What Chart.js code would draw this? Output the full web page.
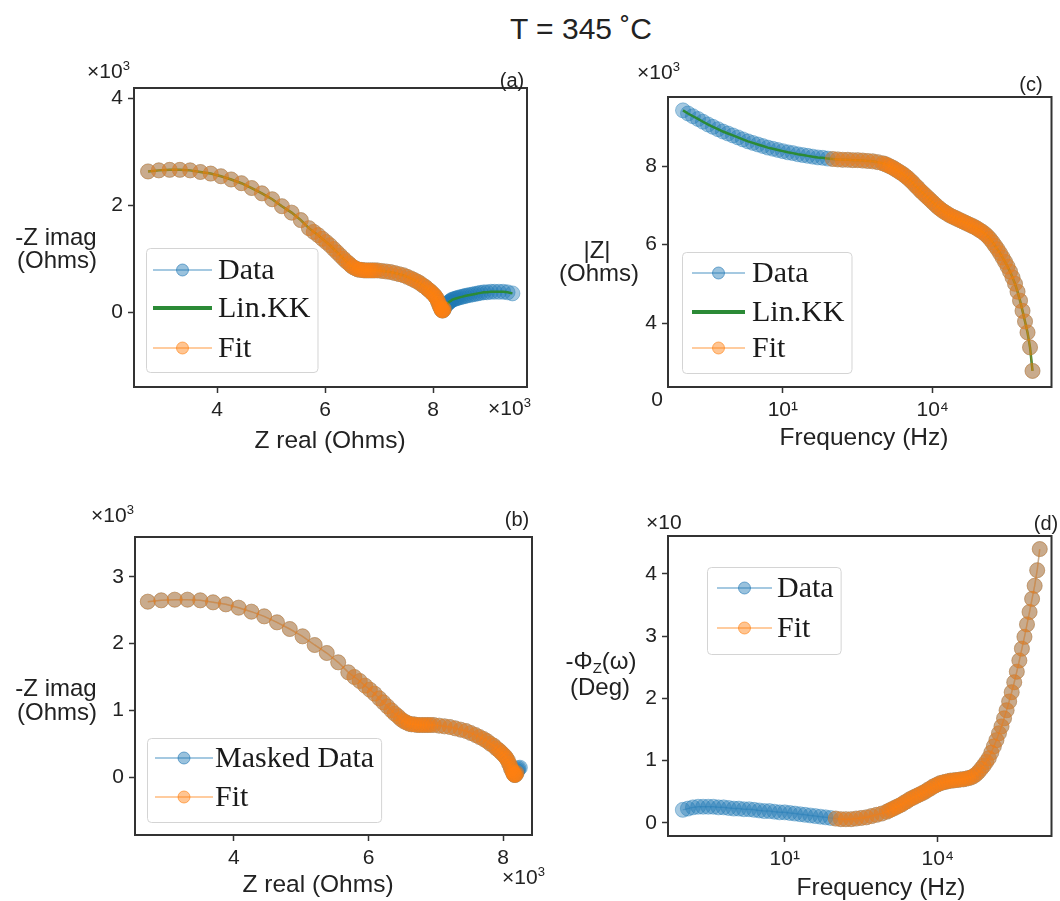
<!DOCTYPE html>
<html><head><meta charset="utf-8">
<script src="https://cdn.jsdelivr.net/npm/chart.js@4.4.1/dist/chart.umd.min.js"></script>
<style>
html,body{margin:0;padding:0;background:#fff;}
body{width:1060px;height:901px;position:relative;overflow:hidden;font-family:"Liberation Sans",Arial,sans-serif;color:#222;}
canvas{position:absolute;}
.c{position:absolute;white-space:nowrap;transform:translate(-50%,-50%);line-height:1;}
.l{position:absolute;white-space:nowrap;line-height:1;}
sup{font-size:62%;vertical-align:0.6em;line-height:0;}
sub{font-size:62%;vertical-align:-0.25em;line-height:0;}
.ax{font-size:24.5px;}
.yl{font-size:24px;}
.m{font-size:21px;}
.p{font-size:20px;}
</style></head><body>
<canvas id="ca" width="545" height="420" style="left:0;top:50px"></canvas>
<canvas id="cc" width="515" height="420" style="left:545px;top:50px"></canvas>
<canvas id="cb" width="545" height="411" style="left:0;top:490px"></canvas>
<canvas id="cd" width="515" height="411" style="left:545px;top:490px"></canvas>

<div class="c" style="left:581px;top:29px;font-size:30px">T = 345 ˚C</div>

<div class="l m" style="left:87px;top:60px">×10<sup>3</sup></div>
<div class="c yl" style="left:56px;top:237px">-Z imag</div>
<div class="c yl" style="left:57px;top:260px">(Ohms)</div>
<div class="c p" style="left:512px;top:80px">(a)</div>
<div class="l m" style="left:488px;top:397px">×10<sup>3</sup></div>
<div class="c ax" style="left:330px;top:440px">Z real (Ohms)</div>

<div class="l m" style="left:637px;top:61px">×10<sup>3</sup></div>
<div class="c yl" style="left:597px;top:250px">|Z|</div>
<div class="c yl" style="left:599px;top:273px">(Ohms)</div>
<div class="c p" style="left:1031px;top:84px">(c)</div>
<div class="c m" style="left:657px;top:398px">0</div>
<div class="c ax" style="left:864px;top:437px">Frequency (Hz)</div>

<div class="l m" style="left:91px;top:504px">×10<sup>3</sup></div>
<div class="c yl" style="left:56px;top:688px">-Z imag</div>
<div class="c yl" style="left:57px;top:712px">(Ohms)</div>
<div class="c p" style="left:517px;top:519px">(b)</div>
<div class="l m" style="left:502px;top:866px">×10<sup>3</sup></div>
<div class="c ax" style="left:318px;top:884px">Z real (Ohms)</div>

<div class="l m" style="left:646px;top:511px">×10</div>
<div class="c yl" style="left:601px;top:661px">-Φ<sub>Z</sub>(ω)</div>
<div class="c yl" style="left:600px;top:687px">(Deg)</div>
<div class="c p" style="left:1046px;top:523px">(d)</div>
<div class="c ax" style="left:881px;top:887px">Frequency (Hz)</div>

<script>
// ---------------- data ----------------
const freqHz = [0.1,0.126,0.158,0.2,0.251,0.316,0.398,0.501,0.631,0.794,
 1,1.26,1.58,2,2.51,3.16,3.98,5.01,6.31,7.94,
 10,12.6,15.8,20,25.1,31.6,39.8,50.1,63.1,79.4,
 100,126,158,200,251,316,398,501,631,794,
 1000,1122,1259,1413,1585,1778,1995,2239,2512,2818,
 3162,3548,3981,4467,5012,5623,6310,7079,7943,8913,
 10000,11220,12590,14130,15850,17780,19950,22390,25120,28180,
 31620,35480,39810,44670,50120,56230,63100,70790,79430,89130,
 100000,112200,125900,141300,158500,177800,199500,223900,251200,281800,
 316200,354800,398100,446700,501200,562300,631000,707900,794300,891300,
 1000000];

// Z real (x10^3 Ohms)
const zReal = [9.47,9.38,9.30,9.22,9.14,9.07,9.00,8.94,8.88,8.83,
 8.78,8.73,8.68,8.63,8.59,8.55,8.51,8.47,8.44,8.41,
 8.38,8.35,8.33,8.31,8.29,8.27,8.25,8.23,8.22,8.21,
 8.20,8.19,8.18,8.17,8.16,8.15,8.14,8.12,8.11,8.09,
 8.07,8.05,8.03,8.00,7.97,7.94,7.90,7.86,7.81,7.76,
 7.71,7.65,7.59,7.52,7.45,7.37,7.29,7.21,7.13,7.05,
 6.97,6.92,6.88,6.84,6.80,6.76,6.72,6.68,6.64,6.60,
 6.56,6.52,6.48,6.44,6.39,6.34,6.28,6.22,6.16,6.09,
 6.02,5.95,5.87,5.79,5.70,5.55,5.38,5.20,5.02,4.83,
 4.64,4.45,4.26,4.07,3.88,3.69,3.50,3.31,3.12,2.92,
 2.72];

// -Z imag (x10^3 Ohms)
const zImagNeg = [0.35,0.37,0.38,0.38,0.38,0.38,0.37,0.37,0.36,0.35,
 0.34,0.33,0.32,0.31,0.30,0.29,0.28,0.27,0.26,0.25,
 0.24,0.23,0.21,0.20,0.18,0.16,0.14,0.13,0.11,0.09,
 0.06,0.04,0.03,0.03,0.04,0.06,0.09,0.12,0.16,0.20,
 0.25,0.28,0.31,0.34,0.37,0.40,0.43,0.47,0.50,0.54,
 0.57,0.60,0.63,0.66,0.69,0.71,0.73,0.75,0.76,0.77,
 0.78,0.78,0.78,0.78,0.78,0.78,0.78,0.79,0.79,0.80,
 0.82,0.84,0.87,0.91,0.95,1.00,1.06,1.12,1.18,1.25,
 1.31,1.37,1.44,1.50,1.57,1.72,1.86,1.98,2.11,2.22,
 2.32,2.41,2.48,2.54,2.59,2.62,2.65,2.66,2.66,2.65,
 2.63];

// |Z| (x10^3 Ohms)
const zMod = [9.42,9.34,9.27,9.20,9.13,9.06,9.00,8.94,8.88,8.83,
 8.78,8.73,8.68,8.63,8.59,8.55,8.51,8.47,8.44,8.41,
 8.38,8.35,8.33,8.30,8.28,8.26,8.24,8.22,8.21,8.19,
 8.18,8.17,8.16,8.16,8.15,8.15,8.14,8.13,8.12,8.10,
 8.07,8.05,8.02,7.99,7.96,7.92,7.88,7.84,7.80,7.75,
 7.70,7.64,7.58,7.51,7.45,7.38,7.32,7.26,7.20,7.14,
 7.08,7.02,6.96,6.91,6.86,6.82,6.78,6.74,6.71,6.68,
 6.65,6.62,6.59,6.56,6.53,6.50,6.47,6.44,6.40,6.36,
 6.32,6.27,6.21,6.14,6.06,5.97,5.88,5.78,5.67,5.56,
 5.44,5.31,5.16,5.00,4.80,4.57,4.31,4.04,3.76,3.38,
 2.78];

// -phase (x10 Deg)
const phaseNeg = [0.21,0.23,0.25,0.26,0.26,0.26,0.26,0.25,0.25,0.24,
 0.23,0.23,0.22,0.22,0.21,0.20,0.19,0.19,0.18,0.17,
 0.17,0.16,0.15,0.14,0.13,0.12,0.11,0.10,0.09,0.08,
 0.07,0.06,0.06,0.06,0.07,0.08,0.09,0.11,0.13,0.15,
 0.18,0.20,0.22,0.24,0.26,0.28,0.30,0.33,0.35,0.38,
 0.40,0.42,0.44,0.46,0.48,0.50,0.53,0.55,0.58,0.60,
 0.62,0.64,0.65,0.66,0.67,0.68,0.68,0.69,0.69,0.70,
 0.70,0.71,0.72,0.73,0.75,0.78,0.82,0.87,0.92,0.98,
 1.04,1.13,1.23,1.33,1.44,1.55,1.68,1.81,1.95,2.10,
 2.26,2.43,2.61,2.80,2.99,3.19,3.39,3.60,3.81,4.06,
 4.40];

const fitMinHz = 100;     // fit covers frequencies from here up
const maskMinHz = 39.8;   // masked data (panel b) from here up

const ticksA_x = [4,6,8], ticksA_y = [0,2,4];
const ticksB_x = [4,6,8], ticksB_y = [0,1,2,3];
const ticksC_y = [4,6,8];
const ticksD_y = [0,1,2,3,4];
const ticksFreq = [10, 10000];

// ---------------- helpers ----------------
Chart.defaults.font.family = '"Liberation Sans", Arial, sans-serif';
Chart.defaults.color = '#222';

const BLUE = a => `rgba(31,119,180,${a})`;
const ORANGE = a => `rgba(255,127,14,${a})`;
const GREEN = '#2b8a36';
const R = 7.5;

function pts(xs, ys, minHz) {
  const out = [];
  xs.forEach((x, i) => { if (freqHz[i] >= minHz) out.push({x: x, y: ys[i]}); });
  return out;
}
function dataDS(label, data) {
  return {label, data, showLine: true, borderColor: BLUE(0.4), borderWidth: 1.5,
    pointRadius: R, pointBackgroundColor: BLUE(0.4), pointBorderColor: BLUE(0.4), pointBorderWidth: 1, order: 3};
}
function kkDS(data) {
  return {label: 'Lin.KK', data, showLine: true, borderColor: GREEN, borderWidth: 2.5, pointRadius: 0, order: 2};
}
function fitDS(data) {
  return {label: 'Fit', data, showLine: true, borderColor: ORANGE(0.4), borderWidth: 1.5,
    pointRadius: R, pointBackgroundColor: ORANGE(0.4), pointBorderColor: ORANGE(0.4), pointBorderWidth: 1, order: 1};
}
const SUP = {'0':'⁰','1':'¹','2':'²','3':'³','4':'⁴','5':'⁵','6':'⁶','-':'⁻'};
function axisCommon(ticks, fit) {
  return {
    afterBuildTicks: s => { s.ticks = ticks.map(v => ({value: v})); },
    afterFit: fit,
    grid: {display: true, drawOnChartArea: false, drawTicks: true, tickLength: 6, tickColor: '#333', tickWidth: 1.5},
    border: {display: false},
    ticks: {font: {size: 21}, color: '#222', padding: 5, autoSkip: false, maxRotation: 0}
  };
}
function linAxis(min, max, ticks, fit) {
  const a = axisCommon(ticks, fit);
  a.type = 'linear'; a.min = min; a.max = max;
  a.ticks.callback = v => String(v);
  return a;
}
function logAxis(min, max, ticks, fit) {
  const a = axisCommon(ticks, fit);
  a.type = 'logarithmic'; a.min = min; a.max = max;
  a.ticks.callback = v => '10' + String(Math.round(Math.log10(v))).split('').map(c => SUP[c]).join('');
  return a;
}

const legendCfg = {};
const framePlugin = {
  id: 'frame',
  afterDatasetsDraw(chart) {
    const {ctx, chartArea: a} = chart;
    ctx.save();
    ctx.strokeStyle = '#333'; ctx.lineWidth = 2;
    ctx.strokeRect(a.left, a.top, a.right - a.left, a.bottom - a.top);
    ctx.restore();
  }
};
const legendPlugin = {
  id: 'panelLegend',
  afterDraw(chart) {
    const o = legendCfg[chart.canvas.id];
    if (!o) return;
    const ctx = chart.ctx;
    ctx.save();
    ctx.font = '30px "Liberation Serif", "Times New Roman", serif';
    let maxW = 0;
    o.items.forEach(it => { maxW = Math.max(maxW, ctx.measureText(it.label).width); });
    const x0 = o.box[0], y0 = o.box[1], h = o.box[2];
    const w = o.textX + maxW + 7 - x0;
    ctx.beginPath();
    ctx.roundRect(x0 + 0.5, y0 + 0.5, w, h, 4);
    ctx.fillStyle = 'rgba(255,255,255,0.8)'; ctx.fill();
    ctx.strokeStyle = '#d4d4d4'; ctx.lineWidth = 1; ctx.stroke();
    o.items.forEach(it => {
      ctx.beginPath();
      ctx.moveTo(o.lineX[0], it.y); ctx.lineTo(o.lineX[1], it.y);
      ctx.strokeStyle = it.line; ctx.lineWidth = it.lw; ctx.stroke();
      if (it.marker) {
        ctx.beginPath();
        ctx.arc((o.lineX[0] + o.lineX[1]) / 2, it.y, 6, 0, Math.PI * 2);
        ctx.fillStyle = it.mfill; ctx.fill();
        ctx.strokeStyle = it.medge; ctx.lineWidth = 1; ctx.stroke();
      }
      ctx.fillStyle = '#1a1a1a'; ctx.textBaseline = 'middle'; ctx.textAlign = 'left';
      ctx.fillText(it.label, o.textX, it.y + 1);
    });
    ctx.restore();
  }
};
const itemData = (label, y) => ({label, y, line: BLUE(0.4), lw: 2, marker: true, mfill: BLUE(0.45), medge: BLUE(0.6)});
const itemKK = y => ({label: 'Lin.KK', y, line: GREEN, lw: 4, marker: false});
const itemFit = y => ({label: 'Fit', y, line: ORANGE(0.4), lw: 2, marker: true, mfill: ORANGE(0.45), medge: ORANGE(0.6)});

function makeChart(id, datasets, xAxis, yAxis, pad, legend) {
  legendCfg[id] = legend;
  return new Chart(document.getElementById(id), {
    type: 'scatter',
    data: {datasets},
    options: {
      responsive: false, animation: false, events: [],
      layout: {padding: pad},
      scales: {x: xAxis, y: yAxis},
      plugins: {legend: {display: false}, tooltip: {enabled: false}}
    },
    plugins: [framePlugin, legendPlugin]
  });
}

// (a) Nyquist with Lin.KK
makeChart('ca',
  [dataDS('Data', pts(zReal, zImagNeg, 0)), kkDS(pts(zReal, zImagNeg, 0)), fitDS(pts(zReal, zImagNeg, fitMinHz))],
  linAxis(2.46, 9.74, ticksA_x, s => { s.height = 40; }),
  linAxis(-1.40, 4.19, ticksA_y, s => { s.width = 134; }),
  {left: 0, top: 38, right: 18, bottom: 43},
  {box: [146, 198, 124], lineX: [153, 212], textX: 218, items: [itemData('Data', 220), itemKK(258), itemFit(298)]});

// (c) |Z| vs frequency
makeChart('cc',
  [dataDS('Data', pts(freqHz, zMod, 0)), kkDS(pts(freqHz, zMod, 0)), fitDS(pts(freqHz, zMod, fitMinHz))],
  logAxis(0.0501, 2.4e6, ticksFreq, s => { s.height = 40; }),
  linAxis(2.37, 9.76, ticksC_y, s => { s.width = 123; }),
  {left: 0, top: 47, right: 8, bottom: 43},
  {box: [137, 202, 121], lineX: [147, 200], textX: 207, items: [itemData('Data', 223), itemKK(262), itemFit(298)]});

// (b) Nyquist, masked data
makeChart('cb',
  [dataDS('Masked Data', pts(zReal, zImagNeg, maskMinHz)), fitDS(pts(zReal, zImagNeg, fitMinHz))],
  linAxis(2.53, 8.43, ticksB_x, s => { s.height = 40; }),
  linAxis(-0.87, 3.60, ticksB_y, s => { s.width = 135; }),
  {left: 0, top: 47, right: 13, bottom: 26},
  {box: [147, 248, 84], lineX: [155, 213], textX: 215, items: [itemData('Masked Data', 268), itemFit(307)]});

// (d) phase vs frequency
makeChart('cd',
  [dataDS('Data', pts(freqHz, phaseNeg, 0)), fitDS(pts(freqHz, phaseNeg, fitMinHz))],
  logAxis(0.0513, 1.70e6, ticksFreq, s => { s.height = 40; }),
  linAxis(-0.21, 4.61, ticksD_y, s => { s.width = 123; }),
  {left: 0, top: 46, right: 1, bottom: 25},
  {box: [162, 77, 87], lineX: [172, 227], textX: 232, items: [itemData('Data', 98), itemFit(138)]});
</script>
</body></html>
